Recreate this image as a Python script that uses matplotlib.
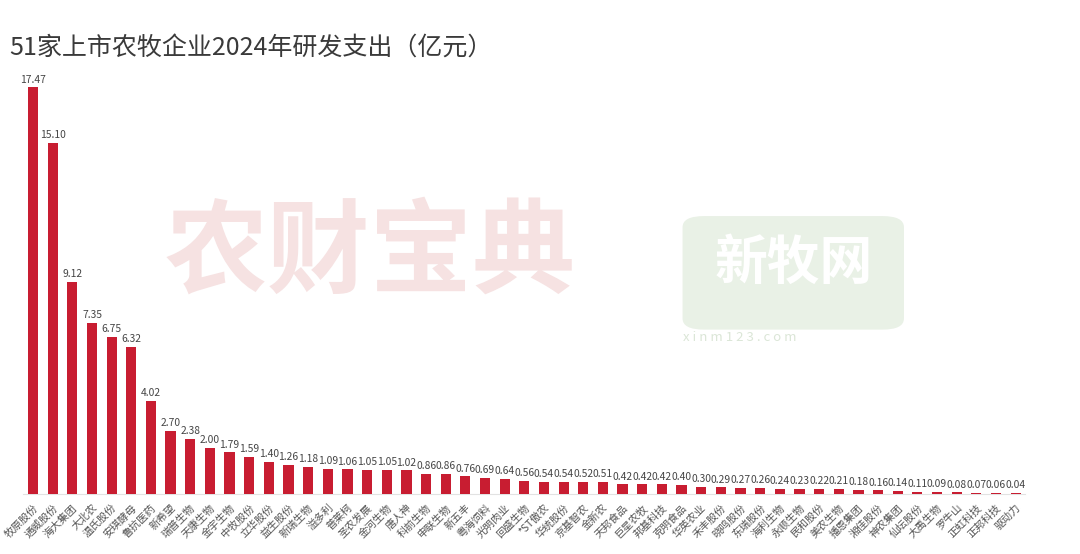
import matplotlib
matplotlib.use('Agg')
import matplotlib.pyplot as plt
from matplotlib.patches import FancyBboxPatch

plt.rcParams['font.family'] = ['Noto Sans CJK SC', 'DejaVu Sans']

companies = ['牧原股份', '通威股份', '海大集团', '大北农', '温氏股份', '安琪酵母', '鲁抗医药',
             '新希望', '瑞普生物', '天康生物', '金宇生物', '中牧股份', '立华股份', '益生股份',
             '新瑞生物', '溢多利', '普莱柯', '圣农发展', '金河生物', '唐人神', '科前生物',
             '申联生物', '新五丰', '粤海饲料', '光明肉业', '回盛生物', '*ST傲农', '华统股份',
             '京基智农', '金新农', '天邦食品', '巨星农牧', '邦基科技', '克明食品', '华英农业',
             '禾丰股份', '晓鸣股份', '东瑞股份', '海利生物', '永顺生物', '民和股份', '美农生物',
             '播恩集团', '湘佳股份', '神农集团', '仙坛股份', '大禹生物', '罗牛山', '正虹科技',
             '正邦科技', '驱动力']
spending = [17.47, 15.10, 9.12, 7.35, 6.75, 6.32, 4.02, 2.70, 2.38, 2.00, 1.79, 1.59, 1.40,
            1.26, 1.18, 1.09, 1.06, 1.05, 1.05, 1.02, 0.86, 0.86, 0.76, 0.69, 0.64, 0.56,
            0.54, 0.54, 0.52, 0.51, 0.42, 0.42, 0.42, 0.40, 0.30, 0.29, 0.27, 0.26, 0.24,
            0.23, 0.22, 0.21, 0.18, 0.16, 0.14, 0.11, 0.09, 0.08, 0.07, 0.06, 0.04]

fig = plt.figure(figsize=(10.8, 5.54), dpi=100)
ax = fig.add_axes([0.0215, 0.108, 0.928, 0.747])

x = range(len(companies))
ax.bar(x, spending, width=0.52, color='#c81d31', zorder=3)
for i, v in enumerate(spending):
    ax.text(i, v + 0.12, '{:.2f}'.format(v), ha='center', va='bottom',
            fontsize=7.4, color='#444444', zorder=4)

ax.set_xlim(-0.5, len(companies) - 0.5)
ax.set_ylim(0, 17.77)
ax.set_xticks(list(x))
ax.set_xticklabels(companies, rotation=45, ha='right', rotation_mode='anchor',
                   fontsize=7.6, color='#555555')
ax.tick_params(axis='x', length=0, pad=6)
ax.set_yticks([])
for s in ['top', 'right', 'left']:
    ax.spines[s].set_visible(False)
ax.spines['bottom'].set_color('#e2e2e2')

# watermarks
fig.text(0.343, 0.54, '农财宝典', fontsize=74, fontweight='heavy', color='#f6e2e2',
         ha='center', va='center', zorder=0)
box = FancyBboxPatch((0.632, 0.405), 0.205, 0.205, boxstyle='round,pad=0,rounding_size=0.02',
                     transform=fig.transFigure, facecolor='#e9f1e6', edgecolor='none', zorder=0)
fig.patches.append(box)
fig.text(0.735, 0.525, '新牧网', fontsize=38, fontweight='bold', color='white',
         ha='center', va='center', zorder=1)
fig.text(0.632, 0.39, 'x i n m 1 2 3 . c o m', fontsize=9.5, color='#dbe6d7',
         ha='left', va='center')

fig.text(0.009, 0.913, '51家上市农牧企业2024年研发支出（亿元）', fontsize=18,
         fontweight='light', color='#3a3a3a', ha='left', va='center')

fig.savefig('out.png', dpi=100)
